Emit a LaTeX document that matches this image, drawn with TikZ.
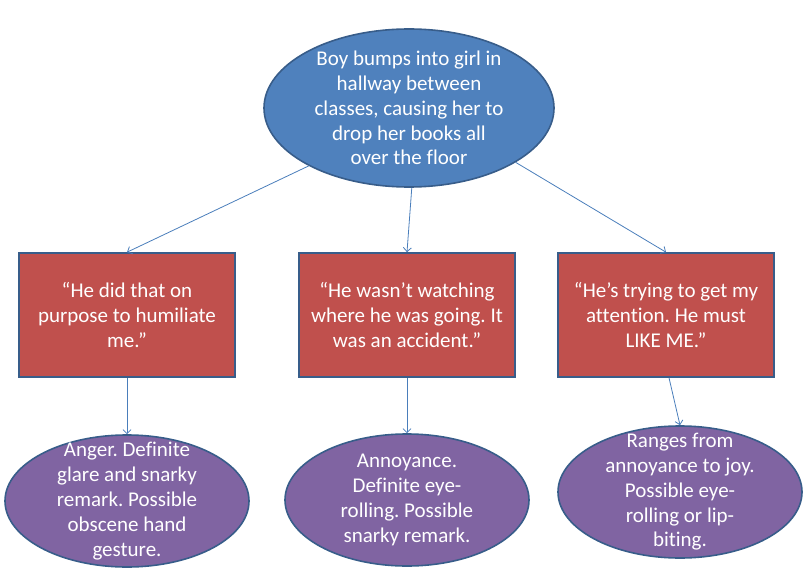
\documentclass[tikz,border=0pt]{standalone}
\usepackage{fontspec}
\setmainfont{Carlito}[Ligatures=NoCommon]
\definecolor{evblue}{HTML}{4F81BD}
\definecolor{thred}{HTML}{C0504D}
\definecolor{fepurple}{HTML}{8064A2}
\definecolor{edgeblue}{HTML}{385D8A}
\definecolor{linkblue}{HTML}{4A7EBB}
\usetikzlibrary{arrows.meta,shapes.geometric}
\frenchspacing

\begin{document}
\begin{tikzpicture}[
  x=1pt,y=-1pt,
  every node/.style={font=\fontsize{21}{24.8}\selectfont,text=white,align=center},
  eventell/.style={ellipse,draw=edgeblue,fill=evblue,line width=1.6pt,
                   minimum width=290pt,minimum height=158pt,inner sep=0pt},
  thoughtbox/.style={rectangle,draw=edgeblue,fill=thred,line width=1.6pt,
                     minimum width=216pt,minimum height=124pt,inner sep=0pt},
  feelell/.style={ellipse,draw=edgeblue,fill=fepurple,line width=1.6pt,
                  minimum width=244pt,minimum height=132pt,inner sep=0pt},
  txt/.style={inner sep=0pt},
  link/.style={draw=linkblue,line width=0.8pt,-{Straight Barb[length=4pt,width=8pt]}},
]
  \useasboundingbox (0,0) rectangle (811,575);
  % Event
  \node[eventell] (event) at (409,108) {};
  \node[txt] (event-t) at (event) {Boy bumps into girl in\\hallway between\\classes, causing her to\\drop her books all\\over the floor};
  % Thoughts
  \node[thoughtbox] (th1) at (127,315) {“He did that on\\purpose to humiliate\\me.”};
  \node[thoughtbox] (th2) at (407,315) {“He wasn’t watching\\where he was going. It\\was an accident.”};
  \node[thoughtbox] (th3) at (666,315) {“He’s trying to get my\\attention. He must\\LIKE ME.”};
  % Feelings
  \node[feelell] (fe1) at (127,501) {};
  \node[txt] (fe1-t) at (fe1) {Anger. Definite\\glare and snarky\\remark. Possible\\obscene hand\\gesture.};
  \node[feelell] (fe2) at (407,500) {};
  \node[txt] (fe2-t) at (fe2) {Annoyance.\\Definite eye-\\rolling. Possible\\snarky remark.};
  \node[feelell] (fe3) at (680,492) {};
  \node[txt] (fe3-t) at (fe3) {Ranges from\\annoyance to joy.\\Possible eye-\\rolling or lip-\\biting.};
  % Arrows
  \draw[link] (event.210) -- (th1.north);
  \draw[link] (event.272) -- (th2.north);
  \draw[link] (event.333) -- (th3.north);
  \draw[link] (th1.south) -- (fe1.north);
  \draw[link] (th2.south) -- (fe2.north);
  \draw[link] ([xshift=3pt]th3.south) -- (fe3.north);
\end{tikzpicture}
\end{document}
